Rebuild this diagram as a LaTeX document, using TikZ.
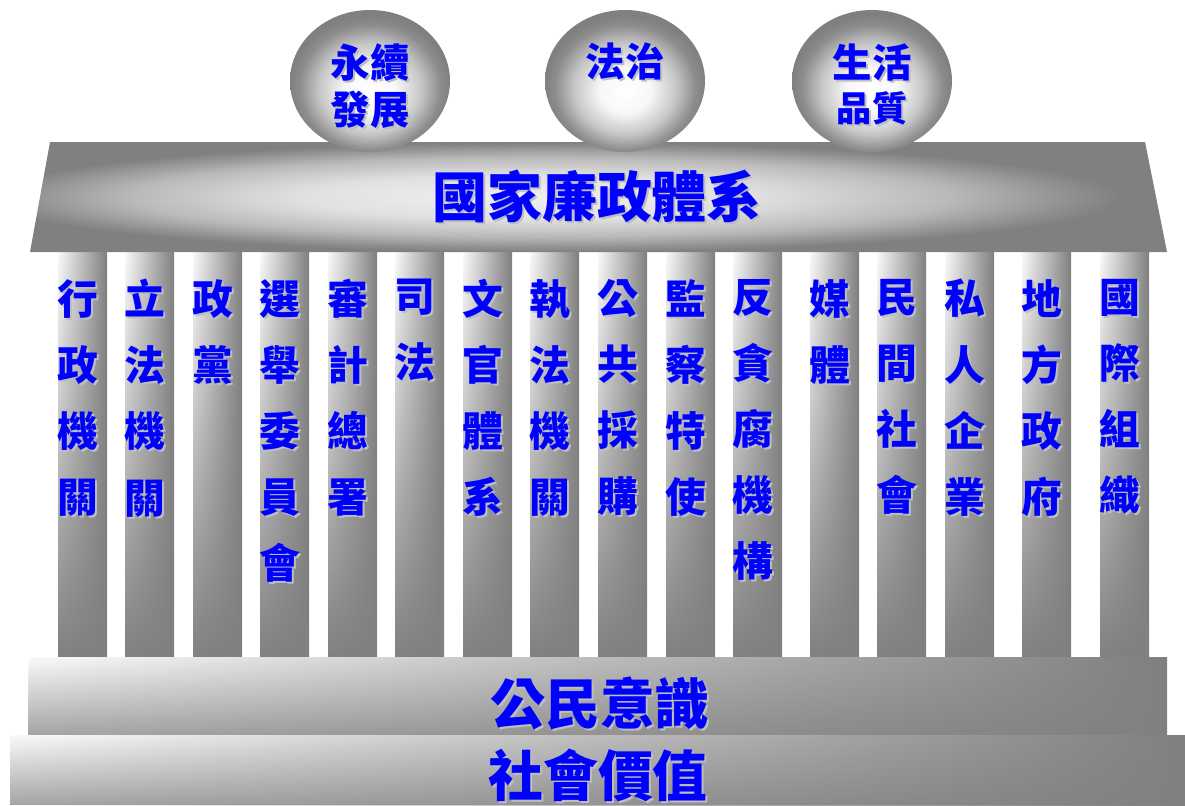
\documentclass[tikz,border=0pt]{standalone}
\usepackage{fontspec}
\newfontfamily\cjk{Noto Sans CJK TC}
\usepackage{tikz}
\usetikzlibrary{shadings,fadings,positioning}
\usepackage{xcolor}
\definecolor{txtblue}{RGB}{0,0,255}
\definecolor{shgray}{RGB}{190,190,190}
\definecolor{stonedark}{RGB}{128,128,128}
\definecolor{stonelight}{RGB}{250,250,250}
\pgfdeclareradialshading{sphereshade}{\pgfpoint{0bp}{-4bp}}{color(0bp)=(white); color(8bp)=(white!94!stonedark); color(16bp)=(white!55!stonedark); color(22bp)=(stonedark!90!white); color(25bp)=(stonedark); color(50bp)=(stonedark)}
\pgfdeclareradialshading{roofshade}{\pgfpoint{-4bp}{0bp}}{color(0bp)=(stonedark!12!white); color(10bp)=(stonedark!24!white); color(18bp)=(stonedark!55!white); color(23bp)=(stonedark!88!white); color(25bp)=(stonedark); color(50bp)=(stonedark)}
\tikzstyle{pillar} = [left color=stonelight, right color=stonedark]
\tikzstyle{slab} = [left color=stonelight, right color=stonedark]
\tikzstyle{roof} = [shading=roofshade]
\tikzstyle{sphere} = [shading=sphereshade]
\tikzstyle{coltext} = [anchor=north, inner sep=0pt, align=center, font=\cjk\bfseries\fontsize{29}{47}\selectfont]
\tikzstyle{balltext} = [inner sep=0pt, align=center, font=\cjk\bfseries\fontsize{28}{33}\selectfont]
\tikzstyle{titletext} = [inner sep=0pt, font=\cjk\bfseries\fontsize{39}{39}\selectfont]

\begin{document}
\begin{tikzpicture}[x=0.025cm, y=-0.025cm]
\useasboundingbox (0,0) rectangle (1185,805);

% Pillars
\foreach \px/\ptxt [count=\i] in {58/{行\\政\\機\\關}, 125/{立\\法\\機\\關}, 193/{政\\黨},
  260/{選\\舉\\委\\員\\會}, 328/{審\\計\\總\\署}, 395/{司\\法}, 463/{文\\官\\體\\系},
  530/{執\\法\\機\\關}, 598/{公\\共\\採\\購}, 666/{監\\察\\特\\使}, 733/{反\\貪\\腐\\機\\構},
  810/{媒\\體}, 877/{民\\間\\社\\會}, 945/{私\\人\\企\\業}, 1022/{地\\方\\政\\府}, 1100/{國\\際\\組\\織}}{
  \shade[pillar] (\px,252) rectangle ++(49,406);
  \fill[stonedark, path fading=north] (\px,252) rectangle ++(49,406);
  \node[coltext, shgray] (cs\i) at (\px+22,281) {\ptxt};
  \node[coltext, txtblue] (c\i) at (\px+20,279) {\ptxt};
}

% Roof
\shade[roof] (50,142) -- (1145,142) -- (1167,252) -- (30,252) -- cycle;
\node[titletext, shgray] (roofs) at (599,198) {國家廉政體系};
\node[titletext, txtblue] (roof) at (597,196) {國家廉政體系};

% Goals on top
\shade[sphere] (370,81) ellipse (80 and 71);
\shade[sphere] (625,81) ellipse (80 and 71);
\shade[sphere] (872,81) ellipse (80 and 71);
\node[balltext, shgray] (goal1s) at (372,88) {永續\\發展};
\node[balltext, txtblue] (goal1) at (370,86) {永續\\發展};
\node[balltext, shgray] (goal2s) at (627,64) {法治};
\node[balltext, txtblue] (goal2) at (625,62) {法治};
\node[balltext, shgray] (goal3s) at (874,64) {生活};
\node[balltext, txtblue] (goal3) at (872,62) {生活};
\node[balltext, shgray, font=\cjk\bfseries\fontsize{25}{25}\selectfont] (goal4s) at (874,110) {品質};
\node[balltext, txtblue, font=\cjk\bfseries\fontsize{25}{25}\selectfont] (goal4) at (872,108) {品質};

% Foundation
\shade[slab] (29,657) rectangle (1167,735);
\fill[stonedark, path fading=north, fill opacity=0.7] (29,657) rectangle (1167,735);
\node[titletext, shgray] (base1s) at (602,705) {公民意識};
\node[titletext, txtblue] (base1) at (600,703) {公民意識};
\shade[slab] (10,735) rectangle (1185,805);
\fill[stonedark, path fading=north, fill opacity=0.7] (10,735) rectangle (1185,805);
\node[titletext, shgray] (base2s) at (600,777) {社會價值};
\node[titletext, txtblue] (base2) at (598,775) {社會價值};
\end{tikzpicture}
\end{document}
